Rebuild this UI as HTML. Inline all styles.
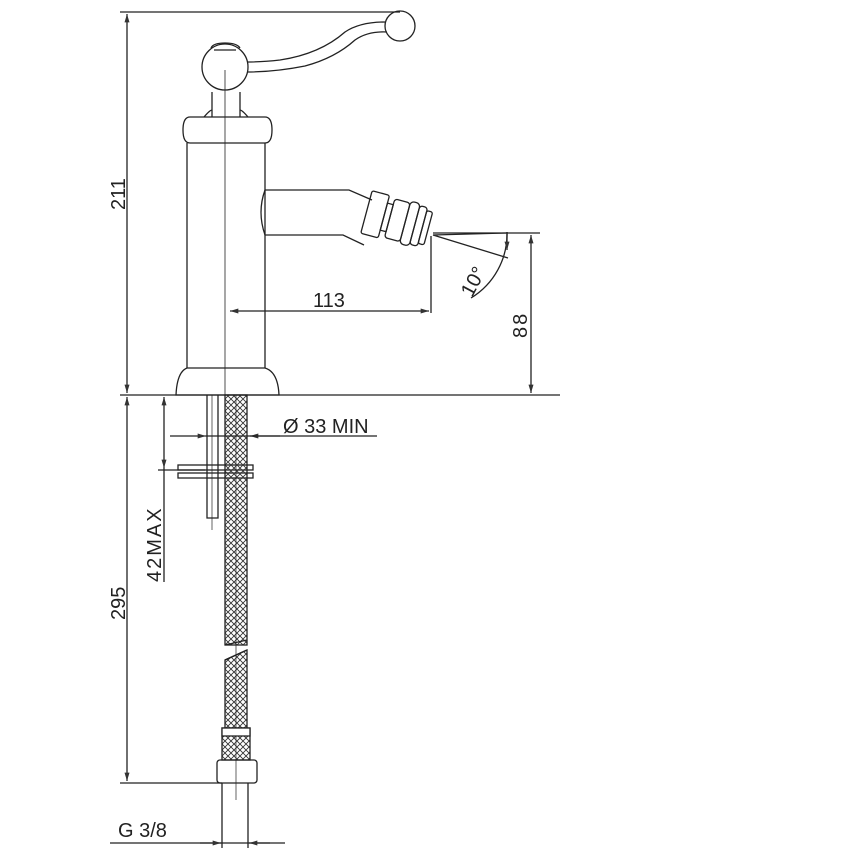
<!DOCTYPE html>
<html><head><meta charset="utf-8"><style>html,body{margin:0;padding:0;background:#fff}svg{display:block}text{font-family:"Liberation Sans",sans-serif;fill:#222}</style></head><body>
<svg width="864" height="864" viewBox="0 0 864 864" xmlns="http://www.w3.org/2000/svg">
<defs>
<pattern id="hx" width="6" height="6" patternUnits="userSpaceOnUse"><path d="M0 0L6 6M6 0L0 6" stroke="#333" stroke-width="0.9"/></pattern>
<marker id="a" viewBox="0 0 10 6" refX="10" refY="3" markerWidth="10" markerHeight="5" orient="auto-start-reverse" markerUnits="userSpaceOnUse"><path d="M0 0L10 3L0 6z" fill="#333"/></marker>
</defs>
<g fill="none" stroke="#222" stroke-width="1.3">
<!-- dim lines -->
<path d="M120 12H400M120 395H560M120 783H222M433 233H540"/>
<line x1="127" y1="14" x2="127" y2="393" marker-start="url(#a)" marker-end="url(#a)"/>
<line x1="127" y1="397" x2="127" y2="781" marker-start="url(#a)" marker-end="url(#a)"/>
<line x1="531" y1="235" x2="531" y2="393" marker-start="url(#a)" marker-end="url(#a)"/>
<line x1="230" y1="311" x2="429" y2="311" marker-start="url(#a)" marker-end="url(#a)"/>
<path d="M431 236V313"/>
<path d="M225 70V400" stroke-width="0.8"/>
<!-- 10 deg -->
<path d="M433 235L508 258M433 235L506 233"/>
<path d="M507 232A75 75 0 0 1 471 298"/>
<path d="M507 232v18" marker-end="url(#a)"/>
<!-- body -->
<path d="M187 143V368M265 143V368"/>
<path d="M190 117H265Q272 117 272 130Q272 143 265 143H190Q183 143 183 130Q183 117 190 117Z"/>
<path d="M187 368H265Q278 372 279 395H176Q177 372 187 368Z"/>
<path d="M212 117V92M240 117V92M204 117Q210 110 212 110M248 117Q242 110 240 110"/>
<circle cx="225" cy="67" r="23"/>
<path d="M211 48Q213 43 225 43Q237 43 240 48M214 50H236"/>
<path d="M247 62Q262 62 280 60Q320 54 345 32Q360 22 385 22M247 72Q275 72 305 66Q335 58 355 40Q368 31 387 32"/>
<circle cx="400" cy="26" r="15"/>
<!-- spout -->
<path d="M265 190H349L372 200M265 235H343L364 245M265 190Q257 212 265 235"/>
<g transform="rotate(15 400 222)">
<rect x="365" y="199" width="18" height="44" rx="2"/>
<rect x="383" y="207" width="6" height="28"/>
<rect x="389" y="201" width="16" height="40" rx="3"/>
<rect x="405" y="199" width="10" height="44" rx="4"/>
<rect x="415" y="201" width="8" height="40" rx="3"/>
<rect x="423" y="204" width="6" height="34" rx="2"/>
</g>
<!-- under counter -->
<path d="M207 395V518H218V395"/>
<path d="M212 395V530" stroke-width="0.7"/>
<rect x="178" y="465" width="75" height="5"/>
<rect x="178" y="473" width="75" height="5"/>
<rect x="225" y="395" width="22" height="250" fill="url(#hx)"/>
<path d="M225 660L247 650V728H225Z" fill="url(#hx)"/>
<path d="M225 645L247 640M225 660L247 650" />
<path d="M236 395V800" stroke-width="0.7"/>
<rect x="222" y="728" width="28" height="32" fill="url(#hx)"/>
<rect x="222" y="728" width="28" height="8" fill="#fff"/>
<rect x="217" y="760" width="40" height="23" rx="3"/>
<path d="M222 783V848M248 783V848"/>
<line x1="170" y1="436" x2="206" y2="436" marker-end="url(#a)"/>
<line x1="280" y1="436" x2="250" y2="436" marker-end="url(#a)"/>
<path d="M206 436H250M250 436H377"/>
<line x1="164" y1="397" x2="164" y2="468" marker-start="url(#a)" marker-end="url(#a)"/>
<path d="M164 468V582M158 470H205"/>
<path d="M110 843H285"/>
<line x1="200" y1="843" x2="221" y2="843" marker-end="url(#a)"/>
<line x1="270" y1="843" x2="249" y2="843" marker-end="url(#a)"/>
</g>
<g font-size="20">
<text transform="translate(125 210) rotate(-90)">211</text>
<text transform="translate(125 620) rotate(-90)">295</text>
<text transform="translate(161 582) rotate(-90)" letter-spacing="2">42MAX</text>
<text transform="translate(527 338) rotate(-90)" letter-spacing="2">88</text>
<text x="313" y="307">113</text>
<text x="283" y="433">Ø 33  MIN</text>
<text x="118" y="837">G 3/8</text>
<text transform="translate(472 298) rotate(-62)">10°</text>
</g>
</svg>
</body></html>
